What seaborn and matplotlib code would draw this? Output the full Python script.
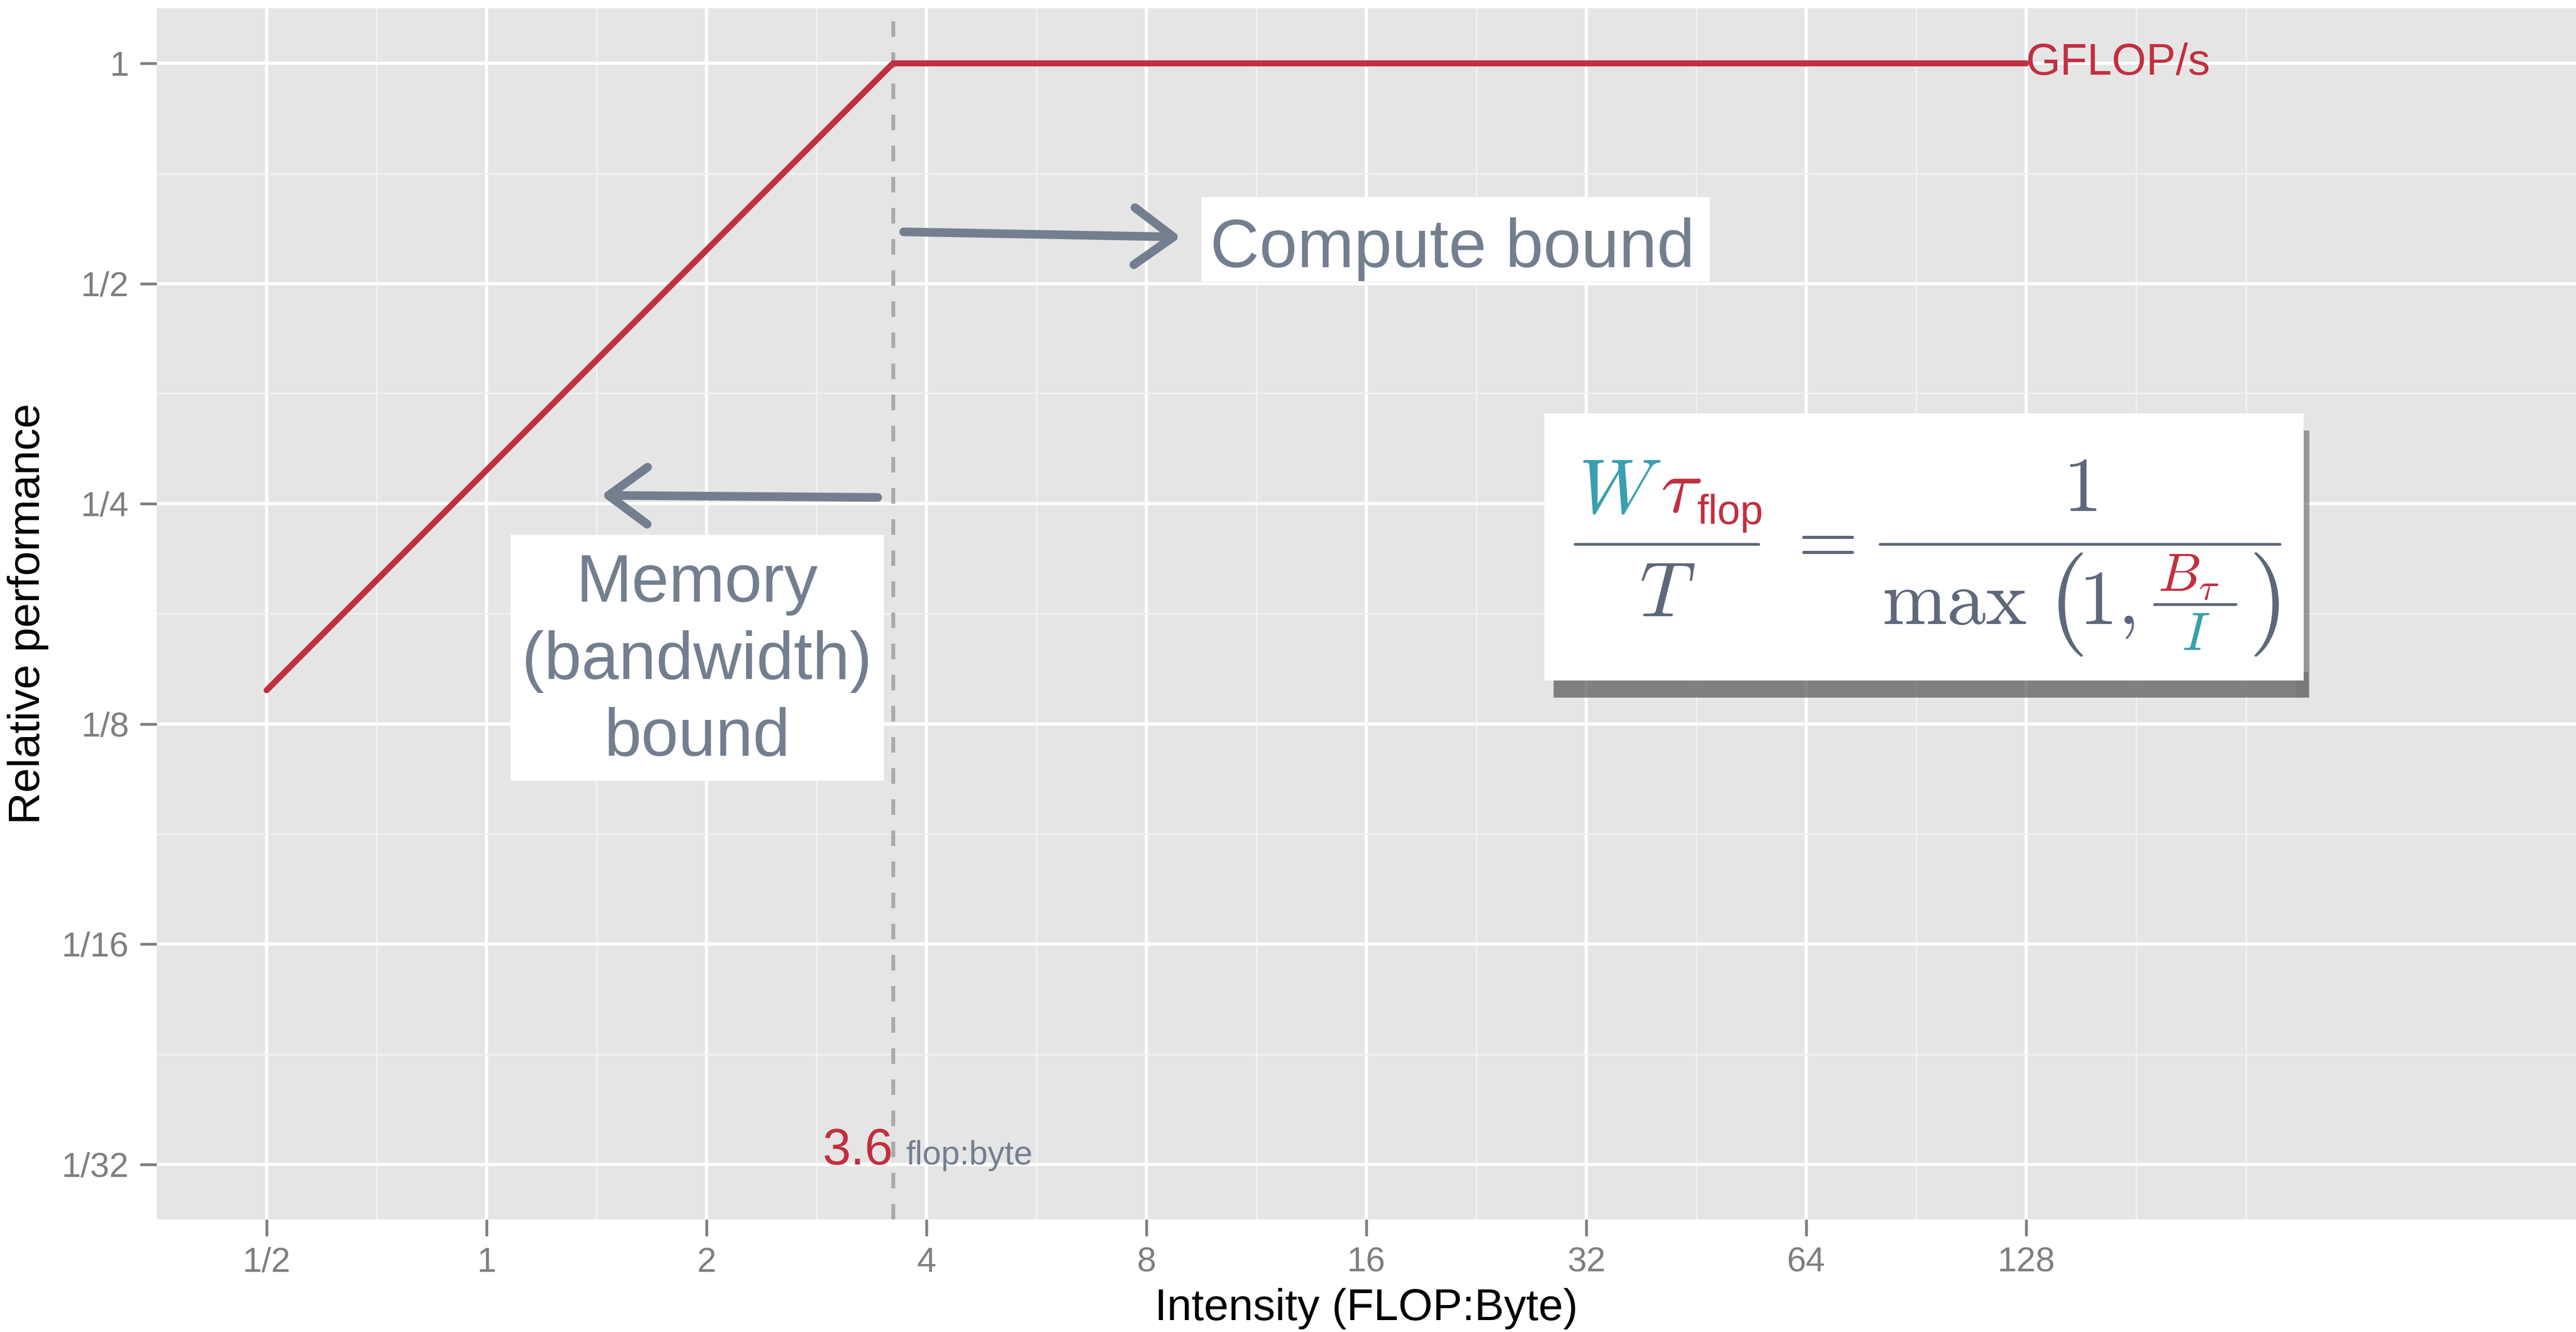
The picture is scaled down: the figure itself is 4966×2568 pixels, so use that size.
import seaborn as sns
import matplotlib.pyplot as plt
from matplotlib.lines import Line2D
from matplotlib.patches import Rectangle
from matplotlib.ticker import FixedLocator, NullFormatter

# roofline data
intensity = [0.5, 3.6, 128]
performance = [0.139, 1.0, 1.0]
ridge = 3.6

x_ticks = [0.5, 1, 2, 4, 8, 16, 32, 64, 128]
x_labels = ['1/2', '1', '2', '4', '8', '16', '32', '64', '128']
x_minor = [0.707, 1.414, 2.828, 5.657, 11.31, 22.63, 45.25, 90.51, 181.0, 256]
y_ticks = [1/32, 1/16, 1/8, 1/4, 1/2, 1]
y_labels = ['1/32', '1/16', '1/8', '1/4', '1/2', '1']
y_minor = [0.0442, 0.0884, 0.177, 0.354, 0.707]

red = '#c1303f'
teal = '#3a9fae'
slate = '#737f8f'
fgray = '#5e687a'

sns.set_theme(style='darkgrid', rc={'axes.facecolor': '#e5e5e5',
                                    'grid.color': 'white'})
plt.rcParams['font.family'] = ['Liberation Sans', 'DejaVu Sans']
plt.rcParams['mathtext.fontset'] = 'cm'

W, H = 4966, 2568
fig = plt.figure(figsize=(W / 300, H / 300), dpi=300)
ax = fig.add_axes([302 / W, 1 - 2351 / H, 1 - 302 / W, (2351 - 16) / H])

def fx(px):
    return px / W

def fy(py):
    return 1 - py / H

ax.set_xscale('log', base=2)
ax.set_yscale('log', base=2)
ax.set_xlim(2 ** -1.5, 2 ** 9.5)
ax.set_ylim(2 ** -5.25, 2 ** 0.25)

ax.xaxis.set_major_locator(FixedLocator(x_ticks))
ax.set_xticklabels(x_labels)
ax.xaxis.set_minor_locator(FixedLocator(x_minor))
ax.xaxis.set_minor_formatter(NullFormatter())
ax.yaxis.set_major_locator(FixedLocator(y_ticks))
ax.set_yticklabels(y_labels)
ax.yaxis.set_minor_locator(FixedLocator(y_minor))
ax.yaxis.set_minor_formatter(NullFormatter())

ax.grid(which='major', color='white', lw=1.5)
ax.grid(which='minor', color='#f2f2f2', lw=0.7)
ax.tick_params(which='major', bottom=True, left=True, length=7.7, width=1.3,
               color='#7f7f7f', labelcolor='#7f7f7f', labelsize=16, pad=5)
ax.tick_params(which='minor', bottom=False, left=False)
for s in ax.spines.values():
    s.set_visible(False)

ax.axvline(ridge, color='#aaaaaa', lw=1.8, dashes=(4, 4), zorder=2)
sns.lineplot(x=intensity, y=performance, ax=ax, color=red, lw=2.8, zorder=3)

ax.set_xlabel('Intensity (FLOP:Byte)', fontsize=20.5, color='black', labelpad=4)
ax.set_ylabel('Relative performance', fontsize=20.5, color='black', labelpad=6)

ax.text(intensity[-1], performance[-1], 'GFLOP/s', color=red, fontsize=20.5,
        ha='left', va='center', zorder=4)
ax.text(ridge, y_ticks[0], '3.6', color=red, fontsize=23.5, ha='right',
        va='baseline', zorder=4)
ax.annotate('flop:byte', xy=(ridge, y_ticks[0]), xytext=(6, 0),
            textcoords='offset points', color=slate, fontsize=15.5,
            ha='left', va='baseline')

def box(x0, y0, x1, y1, **kw):
    r = Rectangle((fx(x0), fy(y1)), (x1 - x0) / W, (y1 - y0) / H,
                  transform=fig.transFigure, **kw)
    fig.add_artist(r)

# label boxes
box(2316, 380, 3296, 543, facecolor='white', edgecolor='none', zorder=2)
fig.text(fx(2333), fy(515), 'Compute bound', color=slate, fontsize=31.5,
         ha='left', va='baseline', zorder=3)
box(984, 1031, 1704, 1505, facecolor='white', edgecolor='none', zorder=2)
fig.text(fx(1344), fy(1275), 'Memory\n(bandwidth)\nbound', color=slate,
         fontsize=31, ha='center', va='center', linespacing=1.29,
         multialignment='center', zorder=3)

# sketchy arrows
arrow = dict(arrowstyle='->, head_length=0.45, head_width=0.33',
             color=slate, lw=4, mutation_scale=40, shrinkA=0, shrinkB=0,
             capstyle='round')
ax.annotate('', xy=(fx(2276), fy(457)), xytext=(fx(1742), fy(447)),
            xycoords='figure fraction', textcoords='figure fraction',
            arrowprops=arrow)
ax.annotate('', xy=(fx(1159), fy(955)), xytext=(fx(1692), fy(959)),
            xycoords='figure fraction', textcoords='figure fraction',
            arrowprops=arrow)

# formula card with shadow
box(2995, 1295, 4450, 1345, facecolor='#555555', edgecolor='none',
    alpha=0.7, zorder=1)
box(4425, 830, 4452, 1345, facecolor='#777777', edgecolor='none',
    alpha=0.7, zorder=1)
box(2977, 797, 4441, 1312, facecolor='white', edgecolor='none', zorder=2)

def mt(px, py, s, color, size=36, ha='left', family=None):
    kw = {} if family is None else {'family': family}
    fig.text(fx(px), fy(py), s, color=color, fontsize=size, ha=ha,
             va='baseline', zorder=3, **kw)

def bar(x0, x1, y):
    fig.add_artist(Line2D([fx(x0), fx(x1)], [fy(y), fy(y)],
                          transform=fig.transFigure, color=fgray, lw=1.3,
                          zorder=3))

mt(3043, 989, r'$W$', teal)
mt(3201, 987, r'$\tau$', red)
mt(3272, 1010, 'flop', red, size=19, family=['Liberation Sans'])
bar(3036, 3390, 1049)
mt(3214, 1188, r'$T$', fgray, ha='center')
mt(3507, 1086, r'$=$', fgray, ha='center')
bar(3624, 4395, 1049)
mt(4010, 985, r'$1$', fgray, ha='center')
mt(3628, 1203, r'$\max$', fgray)
mt(3948, 1216, r'$($', fgray, size=48)
mt(4007, 1203, r'$1,$', fgray)
mt(4160, 1140, r'$B_\tau$', red, size=25)
bar(4153, 4310, 1165)
mt(4233, 1253, r'$I$', teal, size=25, ha='center')
mt(4334, 1216, r'$)$', fgray, size=48)

fig.savefig('out.png', dpi=300, facecolor='white')
